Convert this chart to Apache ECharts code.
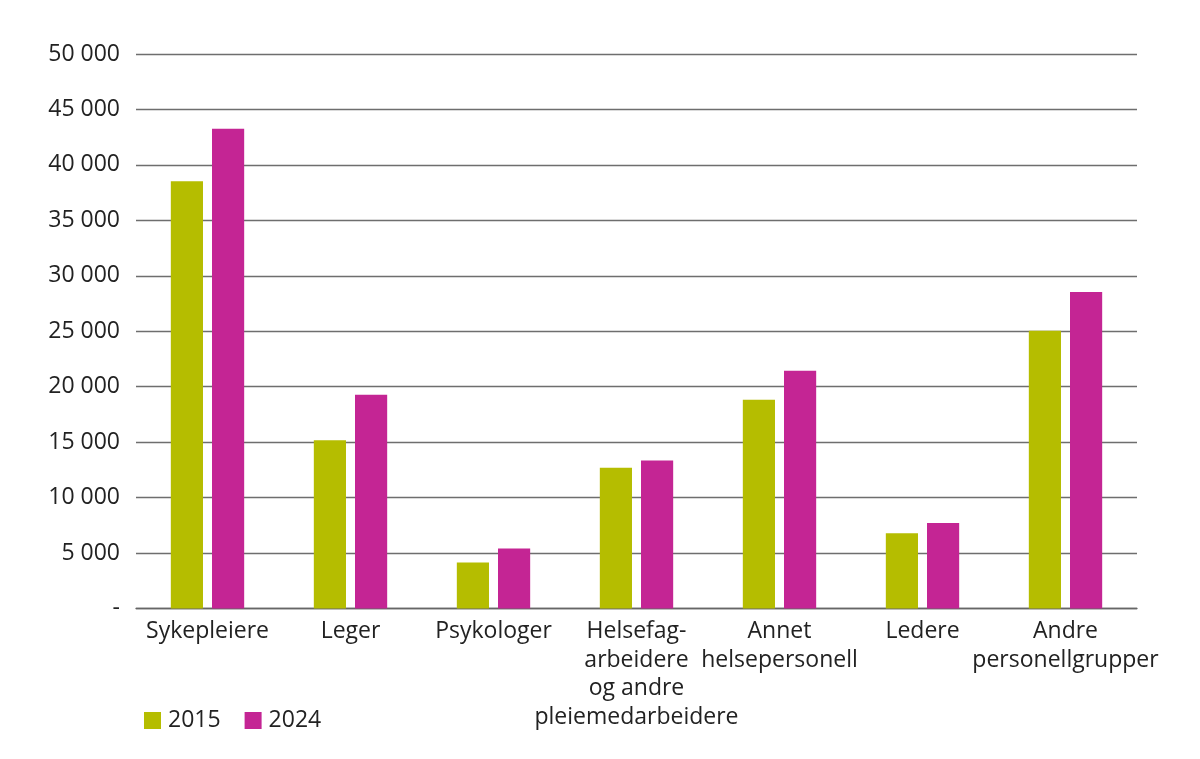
<!DOCTYPE html>
<html>
<head>
<meta charset="utf-8">
<script src="https://cdn.jsdelivr.net/npm/echarts@6/dist/echarts.min.js"></script>
<style>html,body{margin:0;padding:0;background:#fff}#c{width:1200px;height:759px}</style>
</head>
<body>
<div id="c"></div>
<script>
const categories = ["Sykepleiere", "Leger", "Psykologer", "Helsefag-\narbeidere\nog andre\npleiemedarbeidere", "Annet\nhelsepersonell", "Ledere", "Andre\npersonellgrupper"];
const seriesNames = ["2015", "2024"];
const values2015 = [38520, 15180, 4140, 12690, 18820, 6790, 25050];
const values2024 = [43250, 19280, 5400, 13340, 21430, 7710, 28540];
const yTicks = [0, 5000, 10000, 15000, 20000, 25000, 30000, 35000, 40000, 45000, 50000];

const font = "'Open Sans', 'Noto Sans', sans-serif";
const chart = echarts.init(document.getElementById('c'));
chart.setOption({
  animation: false,
  grid: {left: 136, right: 63, top: 54, bottom: 150.5, containLabel: false},
  legend: {
    left: 139, top: 704, icon: 'rect', itemWidth: 17, itemHeight: 17, itemGap: 24,
    textStyle: {fontFamily: font, fontSize: 23, color: '#222', padding: [0,0,0,2]},
    data: seriesNames
  },
  xAxis: {
    type: 'category', data: categories,
    axisLine: {lineStyle: {color: '#666', width: 1.3}},
    axisTick: {show: false},
    axisLabel: {fontFamily: font, fontSize: 23, color: '#222', lineHeight: 28.5, margin: 9, interval: 0}
  },
  yAxis: {
    type: 'value', min: yTicks[0], max: yTicks[yTicks.length-1], interval: 5000,
    axisLine: {show: false}, axisTick: {show: false},
    splitLine: {lineStyle: {color: '#6e6e6e', width: 1.3}},
    axisLabel: {
      fontFamily: font, fontSize: 23, color: '#222', margin: 16,
      formatter: v => v === 0 ? '-' : String(v).replace(/\B(?=(\d{3})+(?!\d))/g, ' ')
    }
  },
  series: [
    {name: seriesNames[0], type: 'bar', data: values2015, barWidth: '22.5%', barGap: '28%', itemStyle: {color: '#b5bd00'}},
    {name: seriesNames[1], type: 'bar', data: values2024, barWidth: '22.5%', barGap: '28%', itemStyle: {color: '#c42594'}}
  ]
});
</script>
</body>
</html>
